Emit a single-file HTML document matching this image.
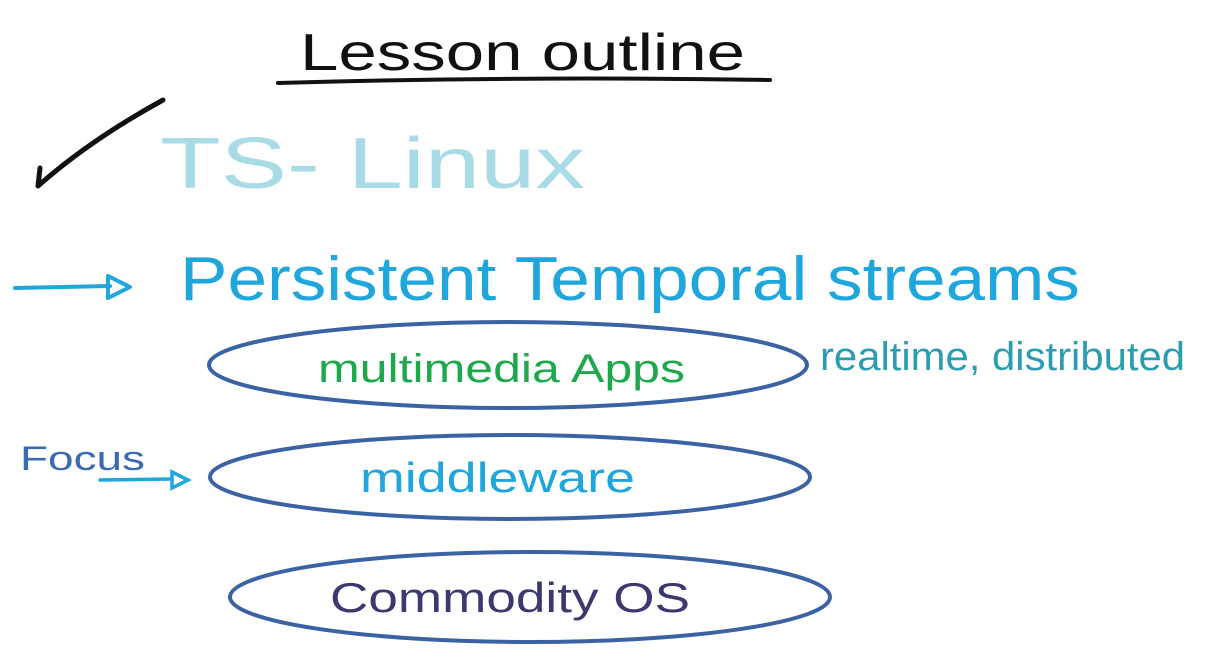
<!DOCTYPE html>
<html><head><meta charset="utf-8"><style>
html,body{margin:0;padding:0;background:#fff;}
svg{display:block;}
text{font-family:"Liberation Sans",sans-serif;}
</style></head><body>
<svg width="1215" height="653" viewBox="0 0 1215 653" xmlns="http://www.w3.org/2000/svg">
<rect width="1215" height="653" fill="#fff"/>
<!-- title -->
<text x="300" y="70" font-size="52" fill="#111" textLength="445" lengthAdjust="spacingAndGlyphs">Lesson outline</text>
<path d="M278 83 Q520 76 770 80" stroke="#111" stroke-width="4" fill="none" stroke-linecap="round"/>
<!-- check -->
<path d="M40 168 L38 186 Q90 140 163 100" stroke="#111" stroke-width="5" fill="none" stroke-linecap="round" stroke-linejoin="round"/>
<text x="160" y="188" font-size="72" fill="#a9dbe6" textLength="425" lengthAdjust="spacingAndGlyphs">TS- Linux</text>
<!-- arrow -->
<path d="M15 288 L110 286" stroke="#1ea6dd" stroke-width="4" fill="none" stroke-linecap="round"/>
<path d="M108 276 L130 287 L108 298 Z" stroke="#1ea6dd" stroke-width="4" fill="none" stroke-linejoin="round"/>
<text x="180" y="300" font-size="62" fill="#1ea6dd" textLength="900" lengthAdjust="spacingAndGlyphs">Persistent Temporal streams</text>
<!-- ellipses -->
<ellipse cx="508" cy="365" rx="299" ry="43" stroke="#3b62a3" stroke-width="4" fill="none"/>
<ellipse cx="510" cy="477" rx="300" ry="42" stroke="#3b62a3" stroke-width="4" fill="none"/>
<ellipse cx="530" cy="597" rx="300" ry="45" stroke="#3b62a3" stroke-width="4" fill="none"/>
<text x="318" y="382" font-size="40" fill="#1da84c" textLength="367" lengthAdjust="spacingAndGlyphs">multimedia Apps</text>
<text x="820" y="370" font-size="40" fill="#2a9db2" textLength="365" lengthAdjust="spacingAndGlyphs">realtime, distributed</text>
<text x="360" y="492" font-size="42" fill="#1ea6dd" textLength="275" lengthAdjust="spacingAndGlyphs">middleware</text>
<text x="20" y="470" font-size="34" fill="#3a6ab2" textLength="125" lengthAdjust="spacingAndGlyphs">Focus</text>
<path d="M100 480 L172 479" stroke="#1ea6dd" stroke-width="3.5" fill="none" stroke-linecap="round"/>
<path d="M172 472 L188 480 L172 488 Z" stroke="#1ea6dd" stroke-width="3.5" fill="none"/>
<text x="330" y="612" font-size="42" fill="#3b3970" textLength="360" lengthAdjust="spacingAndGlyphs">Commodity OS</text>
</svg>
</body></html>
